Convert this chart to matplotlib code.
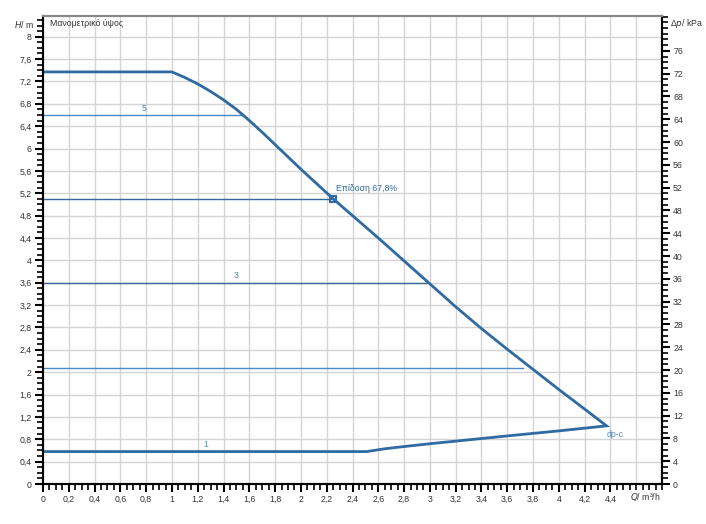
import numpy as np
import matplotlib
matplotlib.use('Agg')
import matplotlib.pyplot as plt
from matplotlib.ticker import FuncFormatter, MultipleLocator

plt.rcParams['font.family'] = ['Liberation Sans', 'DejaVu Sans']
FS = 6.3

# curve data (Q in m3/h, H in m)
q_max = [0, 1.0, 1.1, 1.2, 1.3, 1.4, 1.5, 1.6, 1.7, 1.8, 2.0, 2.25, 2.6, 3.0, 3.2, 3.4, 3.6, 3.8, 4.0, 4.2, 4.37]
h_max = [7.37, 7.37, 7.27, 7.155, 7.02, 6.87, 6.7, 6.5, 6.29, 6.07, 5.63, 5.1, 4.4, 3.58, 3.17, 2.78, 2.41, 2.05, 1.69, 1.34, 1.04]
q_min = [4.37, 4.0, 3.6, 3.0, 2.8, 2.65, 2.51, 0]
h_min = [1.04, 0.95, 0.86, 0.72, 0.67, 0.63, 0.58, 0.58]

# speed lines: level, end Q, label, label Q
lvl_h = [6.6, 5.1, 3.6, 2.08]
lvl_q = [1.54, 2.25, 2.98, 3.72]
lvl_lbl = ['5', '', '3', '']
lvl_lbl_q = [0.78, 0, 1.5, 0]
lvl_col = ['#4a8ac4', '#3a6796', '#3a6796', '#4a8ac4']

op_q, op_h = 2.25, 5.1
op_text = 'Επίδοση 67,8%'

KPA = 9.81
XMAX, YMAX = 4.8, 8.37

fig = plt.figure(figsize=(7.06, 5.24), dpi=100)
ax = fig.add_axes([43/706, 1-484/524, (662-43)/706, (484-16)/524])
ax.set_xlim(0, XMAX)
ax.set_ylim(0, YMAX)

# grid
for x in np.arange(0.2, XMAX, 0.2):
    ax.axvline(x, color='#d4d4d4', lw=1, zorder=0)
for y in np.arange(0.4, 8.01, 0.4):
    ax.axhline(y, color='#d4d4d4', lw=1, zorder=0)

blue = '#2f6aa3'
for h, q, lb, lq, c in zip(lvl_h, lvl_q, lvl_lbl, lvl_lbl_q, lvl_col):
    ax.plot([0, q], [h, h], color=c, lw=1, zorder=2)
    if lb:
        ax.text(lq, h + 0.04, lb, color='#4a8ac4', fontsize=FS, ha='center', va='bottom')

ax.plot(q_max + q_min[1:], h_max + h_min[1:], color=blue, lw=2, zorder=3, solid_joinstyle='miter')
ax.text(1.26, 0.62, '1', color='#4a8ac4', fontsize=FS, ha='center', va='bottom')
ax.text(4.44, 0.89, 'dp-c', color='#4a8ac4', fontsize=FS, ha='center', va='center')

ax.plot([op_q], [op_h], marker='s', ms=5, mfc='none', mec=blue, mew=1.5, zorder=4)
ax.text(op_q + 0.02, op_h + 0.1, op_text, color=blue, fontsize=FS, ha='left', va='bottom')

ax.text(0.055, 8.23, 'Μανομετρικό ύψος', color='#333333', fontsize=FS, ha='left', va='center')

fmt = FuncFormatter(lambda v, p: ('%g' % round(v, 2)).replace('.', ','))
ax.set_xticks(np.arange(0, 4.41, 0.2))
ax.xaxis.set_minor_locator(MultipleLocator(0.05))
ax.xaxis.set_major_formatter(fmt)
ax.set_yticks(np.arange(0, 8.01, 0.4))
ax.yaxis.set_minor_locator(MultipleLocator(0.1))
ax.yaxis.set_major_formatter(fmt)
ax.tick_params(which='major', length=6, width=1.5, labelsize=FS, labelcolor='#333333', pad=2)
ax.tick_params(which='minor', length=4, width=1.2)

ax2 = ax.twinx()
ax2.set_ylim(0, YMAX * KPA)
ax2.set_yticks(np.arange(0, 76.1, 4))
ax2.yaxis.set_minor_locator(MultipleLocator(1))
ax2.tick_params(which='major', length=6, width=1.5, labelsize=FS, labelcolor='#333333', pad=2)
ax2.tick_params(which='minor', length=4, width=1.2)

for a in (ax, ax2):
    for s in ('left', 'right', 'bottom'):
        a.spines[s].set_linewidth(1.5)
        a.spines[s].set_color('black')
    a.spines['top'].set_color('#888888')
    a.spines['top'].set_linewidth(1.5)

fig.text(34/706, 1-24/524, '$\\it{H}$/ m', fontsize=FS, color='#333333', ha='right', va='center')
fig.text(670/706, 1-24/524, 'Δ$\\it{p}$/ kPa', fontsize=FS, color='#333333', ha='left', va='center')
fig.text(645/706, 1-497/524, '$\\it{Q}$/ m³/h', fontsize=FS, color='#333333', ha='center', va='center')

fig.savefig('out.png', dpi=100)
